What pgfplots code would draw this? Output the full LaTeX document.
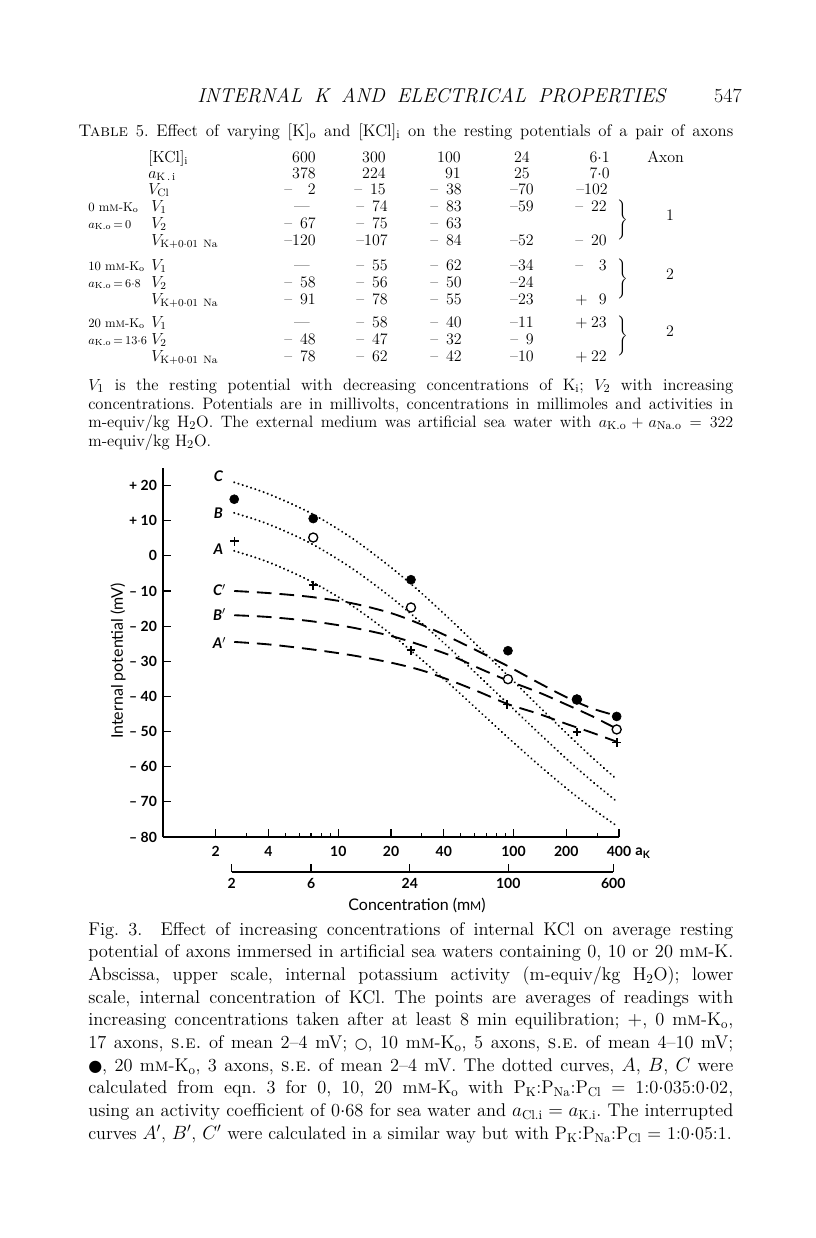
\documentclass[border=0pt]{standalone}
\usepackage{fontspec}
\usepackage{graphicx}
\usepackage{pgfplots}
\pgfplotsset{compat=1.18}
\newfontfamily\figfont{Lato}
\newfontfamily\sym{DejaVu Sans}
\newcommand\fs[1]{\fontsize{#1}{#1}\selectfont}
\newcommand\mM{m\textsc{m}}
\newcommand\tline[2]{\node[anchor=base west,inner sep=0pt,font=\fs{12.4}] at (88,#1) {\makebox[483.75pt][s]{#2}};}
\newcommand\tnat[2]{\node[anchor=base west,inner sep=0pt,font=\fs{12.4}] at (88,#1) {#2};}
\newcommand\capline[2]{\node[anchor=base west,inner sep=0pt,font=\fs{13.8}] at (88,#1) {\makebox[483.75pt][s]{#2}};}
\newcommand\capnat[2]{\node[anchor=base west,inner sep=0pt,font=\fs{13.6}] at (88,#1) {#2};}
\newcommand\tn[3]{\node[anchor=base east,inner sep=0pt,font=\fs{12}] at (#1,#2) {#3};}
\newcommand\sg[3]{\node[anchor=base west,inner sep=0pt,font=\fs{12}] at (#1,#2) {#3};}
\newcommand\lab[3]{\node[anchor=base west,inner sep=0pt,font=\fs{12}] at (#1,#2) {#3};}
\newcommand\slab[3]{\node[anchor=base west,inner sep=0pt,font=\fs{9.5}] at (#1,#2) {#3};}
\frenchspacing
\begin{document}
\begin{tikzpicture}
\begin{scope}[x=0.75pt,y=-0.75pt]
\fill[white] (0,0) rectangle (816,1238);
\useasboundingbox (0,0) rectangle (816,1238);
% running head
\node[anchor=base west,inner sep=0pt,font=\fs{15}\itshape] at (197,103) {\makebox[351pt][s]{INTERNAL K AND ELECTRICAL PROPERTIES}};
\node[anchor=base east,inner sep=0pt,font=\fs{15}] at (742,103) {547};
% table caption
\node[anchor=base west,inner sep=0pt,font=\fs{12.6}] at (78,136) {\makebox[491.25pt][s]{\textsc{Table} 5. Effect of varying [K]$_{\rm o}$ and [KCl]$_{\rm i}$ on the resting potentials of a pair of axons}};
% table head rows
\lab{148}{162}{[KCl]$_{\rm i}$}
\tn{316}{162}{600}\tn{386}{162}{300}\tn{461}{162}{100}\tn{530}{162}{24}\tn{610}{162}{6$\cdot$1}
\lab{647}{162}{Axon}
\lab{148}{178}{$a_{\rm K\,.\,i}$}
\tn{316}{178}{378}\tn{386}{178}{224}\tn{461}{178}{91}\tn{530}{178}{25}\tn{610}{178}{7$\cdot$0}
\lab{148}{194}{$V_{\rm Cl}$}
\sg{284}{194}{--}\tn{316}{194}{2}\sg{354}{194}{--}\tn{386}{194}{15}\sg{430}{194}{--}\tn{462}{194}{38}\tn{534}{194}{--70}\tn{608}{194}{--102}
% group 1
\slab{88}{211}{0 \mM-K$_{\rm o}$}\lab{151}{211}{$V_1$}
\node[anchor=base,inner sep=0pt,font=\fs{12}] at (302,211) {---};
\sg{356}{211}{--}\tn{388}{211}{74}\sg{430}{211}{--}\tn{462}{211}{83}\tn{534}{211}{--59}\sg{575}{211}{--}\tn{607}{211}{22}
\slab{88}{228}{$a_{\rm K.o}\,{=}\,0$}\lab{151}{228}{$V_2$}
\sg{284}{228}{--}\tn{316}{228}{67}\sg{356}{228}{--}\tn{388}{228}{75}\sg{430}{228}{--}\tn{462}{228}{63}
\lab{151}{245}{$V_{\rm K+0\cdot01\ Na}$}
\tn{316}{245}{--120}\tn{388}{245}{--107}\sg{430}{245}{--}\tn{462}{245}{84}\tn{534}{245}{--52}\sg{575}{245}{--}\tn{607}{245}{20}
\node[inner sep=0pt,font=\fs{12}] at (622,219.5) {$\left.\vrule height 11pt depth 11pt width 0pt\right\}$};
\node[inner sep=0pt,font=\fs{12}] at (670,215) {1};
% group 2
\slab{88}{270}{10 \mM-K$_{\rm o}$}\lab{151}{270}{$V_1$}
\node[anchor=base,inner sep=0pt,font=\fs{12}] at (302,270) {---};
\sg{356}{270}{--}\tn{388}{270}{55}\sg{430}{270}{--}\tn{462}{270}{62}\tn{534}{270}{--34}\sg{575}{270}{--}\tn{607}{270}{3}
\slab{88}{287}{$a_{\rm K.o}\,{=}\,6{\cdot}8$}\lab{151}{287}{$V_2$}
\sg{284}{287}{--}\tn{316}{287}{58}\sg{356}{287}{--}\tn{388}{287}{56}\sg{430}{287}{--}\tn{462}{287}{50}\tn{534}{287}{--24}
\lab{151}{304}{$V_{\rm K+0\cdot01\ Na}$}
\sg{284}{304}{--}\tn{316}{304}{91}\sg{356}{304}{--}\tn{388}{304}{78}\sg{430}{304}{--}\tn{462}{304}{55}\tn{534}{304}{--23}\sg{575}{304}{+}\tn{607}{304}{9}
\node[inner sep=0pt,font=\fs{12}] at (622,278.5) {$\left.\vrule height 11pt depth 11pt width 0pt\right\}$};
\node[inner sep=0pt,font=\fs{12}] at (670,274) {2};
% group 3
\slab{88}{327}{20 \mM-K$_{\rm o}$}\lab{151}{327}{$V_1$}
\node[anchor=base,inner sep=0pt,font=\fs{12}] at (302,327) {---};
\sg{356}{327}{--}\tn{388}{327}{58}\sg{430}{327}{--}\tn{462}{327}{40}\tn{534}{327}{--11}\sg{575}{327}{+}\tn{607}{327}{23}
\slab{88}{344}{$a_{\rm K.o}\,{=}\,13{\cdot}6$}\lab{151}{344}{$V_2$}
\sg{284}{344}{--}\tn{316}{344}{48}\sg{356}{344}{--}\tn{388}{344}{47}\sg{430}{344}{--}\tn{462}{344}{32}\sg{510}{344}{--}\tn{534}{344}{9}
\lab{151}{361}{$V_{\rm K+0\cdot01\ Na}$}
\sg{284}{361}{--}\tn{316}{361}{78}\sg{356}{361}{--}\tn{388}{361}{62}\sg{430}{361}{--}\tn{462}{361}{42}\tn{534}{361}{--10}\sg{575}{361}{+}\tn{607}{361}{22}
\node[inner sep=0pt,font=\fs{12}] at (622,335.5) {$\left.\vrule height 11pt depth 11pt width 0pt\right\}$};
\node[inner sep=0pt,font=\fs{12}] at (670,331) {2};
% table note
\tline{390}{$V_1$ is the resting potential with decreasing concentrations of K$_{\rm i}$; $V_2$ with increasing}
\tline{409}{concentrations. Potentials are in millivolts, concentrations in millimoles and activities in}
\tline{427}{m-equiv/kg H$_2$O. The external medium was artificial sea water with $a_{\rm K.o}+a_{\rm Na.o}=322$}
\tnat{446}{m-equiv/kg H$_2$O.}
% labels of the figure
\node[rotate=90,font=\figfont\fs{12}] at (118,661) {Internal potential (mV)};
\node[font=\figfont\bfseries\fs{11}] at (643,853) {a\textsubscript{K}};
\node[font=\figfont\fs{12}] at (417,905) {Concentration (m{\fs{9}M})};
% caption
\capline{935}{Fig. 3.\ \ Effect of increasing concentrations of internal KCl on average resting}
\capline{957.7}{potential of axons immersed in artificial sea waters containing 0, 10 or 20 \mM-K.}
\capline{980.4}{Abscissa, upper scale, internal potassium activity (m-equiv/kg H$_2$O); lower}
\capline{1003.1}{scale, internal concentration of KCl. The points are averages of readings with}
\capline{1025.8}{increasing concentrations taken after at least 8 min equilibration; $+$, 0 \mM-K$_{\rm o}$,}
\capline{1048.5}{17 axons, \textsc{s.e.} of mean 2--4 mV; {\sym\fs{11}○}, 10 \mM-K$_{\rm o}$, 5 axons, \textsc{s.e.} of mean 4--10 mV;}
\capline{1071.2}{{\sym\fs{12}●}, 20 \mM-K$_{\rm o}$, 3 axons, \textsc{s.e.} of mean 2--4 mV. The dotted curves, $A$, $B$, $C$ were}
\capline{1093.9}{calculated from eqn. 3 for 0, 10, 20 \mM-K$_{\rm o}$ with P$_{\rm K}$:P$_{\rm Na}$:P$_{\rm Cl}$ = 1:0$\cdot$035:0$\cdot$02,}
\capline{1116.6}{using an activity coefficient of 0$\cdot$68 for sea water and $a_{\rm Cl.i}=a_{\rm K.i}$. The interrupted}
\capnat{1139.3}{curves $A'$, $B'$, $C'$ were calculated in a similar way but with P$_{\rm K}$:P$_{\rm Na}$:P$_{\rm Cl}$ = 1:0$\cdot$05:1.}
\end{scope}
% ---------------- figure ----------------
\begin{axis}[
  at={(122.25pt,-627.75pt)}, anchor=south west,
  scale only axis, width=342pt, height=276.8pt,
  xmode=log, xmin=1, xmax=400, ymin=-80, ymax=25,
  axis lines=left, axis line style={-, line width=1.1pt},
  clip=false,
  xtick={2,4,10,20,40,100,200,400},
  xticklabels={2,4,10,20,40,100,200,400},
  minor xtick={3,5,6,7,8,9,30,50,60,70,80,90,300},
  ytick={-80,-70,-60,-50,-40,-30,-20,-10,0,10,20},
  yticklabels={{– 80},{– 70},{– 60},{– 50},{– 40},{– 30},{– 20},{– 10},0,{+ 10},{+ 20}},
  tick align=inside,
  major tick length=5.8pt, minor tick length=3pt,
  tick style={black, line width=0.9pt},
  tick label style={font=\figfont\bfseries\fs{10.5}},
  xticklabel style={yshift=-3.5pt},
  yticklabel style={xshift=-1pt},
]
% dotted curves A, B, C
\addplot[smooth, line width=1.7pt, line cap=round, dash pattern=on 0.01pt off 3.3pt] coordinates {
(2.55,1.4) (4,-1.8) (7,-7.3) (12,-14.2) (20,-22.3) (30,-29.6) (45,-37.3) (65,-44.6) (93,-51.7) (140,-59.6) (200,-66.1) (280,-71.8) (385,-76.7)};
\addplot[smooth, line width=1.7pt, line cap=round, dash pattern=on 0.01pt off 3.3pt] coordinates {
(2.55,12.2) (4,9.0) (7,3.5) (12,-3.6) (20,-11.8) (30,-19.2) (45,-27.1) (65,-34.7) (93,-42.1) (140,-50.5) (200,-57.7) (280,-64.1) (385,-69.7)};
\addplot[smooth, line width=1.7pt, line cap=round, dash pattern=on 0.01pt off 3.3pt] coordinates {
(2.55,20.9) (4,17.6) (7,12.1) (12,5.0) (20,-3.3) (30,-10.7) (45,-18.8) (65,-26.5) (93,-34.1) (140,-42.9) (200,-50.4) (280,-57.3) (385,-63.4)};
% dashed curves A', B', C'
\addplot[smooth, line width=1.4pt, dash pattern=on 11pt off 6pt] coordinates {
(2.55,-10.0) (4,-10.6) (7,-11.7) (12,-13.5) (20,-16.3) (30,-19.6) (45,-23.6) (65,-27.5) (93,-31.4) (140,-36.2) (200,-40.2) (280,-43.4) (388,-45.5)};
\addplot[smooth, line width=1.4pt, dash pattern=on 11pt off 6pt] coordinates {
(2.55,-16.9) (4,-17.4) (7,-18.6) (12,-20.4) (20,-22.8) (30,-25.5) (45,-28.6) (65,-32.2) (93,-35.5) (140,-38.9) (200,-42.3) (280,-45.6) (388,-49.2)};
\addplot[smooth, line width=1.4pt, dash pattern=on 11pt off 6pt] coordinates {
(2.55,-24.5) (4,-25.2) (7,-26.6) (12,-28.3) (20,-30.4) (30,-32.6) (45,-35.7) (65,-38.9) (93,-42.2) (140,-45.0) (200,-47.8) (280,-50.3) (388,-52.9)};
% data points
\addplot[only marks, mark=*, mark size=3.4pt, mark options={fill=white, draw=black, line width=1pt}] coordinates {
(7.2,5.2) (26,-14.7) (93,-35.1) (230,-40.9) (388,-49.4)};
\addplot[only marks, mark=*, mark size=3.4pt, mark options={fill=black, draw=black}] coordinates {
(2.55,16.1) (7.2,10.6) (26,-6.8) (93,-27.0) (230,-40.8) (388,-45.7)};
\addplot[only marks, mark=+, mark size=3.2pt, mark options={line width=1.4pt}] coordinates {
(2.56,4.1) (7.2,-8.4) (26,-26.9) (92,-42.3) (230,-50.1) (388,-53.1)};
% curve labels
\node[font=\figfont\bfseries\itshape\fs{11}] at (axis cs:2.07,22.6) {C};
\node[font=\figfont\bfseries\itshape\fs{11}] at (axis cs:2.07,12.0) {B};
\node[font=\figfont\bfseries\itshape\fs{11}] at (axis cs:2.07,1.85) {A};
\node[font=\figfont\bfseries\itshape\fs{11}] at (axis cs:2.1,-9.8) {C$'$};
\node[font=\figfont\bfseries\itshape\fs{11}] at (axis cs:2.1,-16.7) {B$'$};
\node[font=\figfont\bfseries\itshape\fs{11}] at (axis cs:2.1,-24.8) {A$'$};
\end{axis}
% lower (concentration) scale
\begin{axis}[
  at={(173.775pt,-654pt)}, anchor=south west,
  scale only axis, width=286.2pt, height=10pt,
  xmode=log, xmin=2.5, xmax=378, ymin=0, ymax=1,
  axis x line=bottom, axis y line=none, axis line style={-, line width=1.1pt},
  xtick={2.5,7.1,26,95,378}, xticklabels={2,6,24,100,600},
  tick align=inside, major tick length=6pt,
  tick style={black, line width=0.9pt},
  tick label style={font=\figfont\bfseries\fs{10.5}},
  xticklabel style={yshift=-1pt},
]
\end{axis}
\end{tikzpicture}
\end{document}
